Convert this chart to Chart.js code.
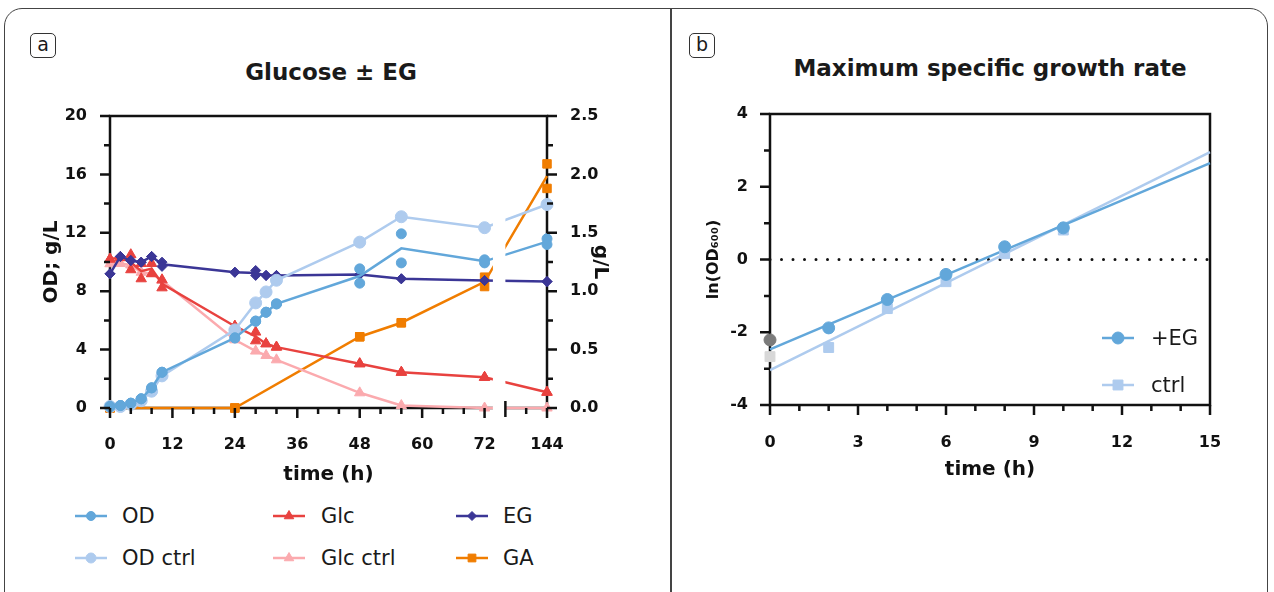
<!DOCTYPE html>
<html>
<head>
<meta charset="utf-8">
<script src="https://cdn.jsdelivr.net/npm/chart.js"></script>
<style>
  body { margin: 0; width: 1274px; height: 592px; overflow: hidden; background: #fff;
         font-family: "DejaVu Sans", sans-serif; color: #1a1a1a; position: relative; }
  .abs { position: absolute; }
  #frame { left: 4px; top: 8px; width: 1262px; height: 640px; border: 1.5px solid #444; border-radius: 18px; }
  #divider { left: 670px; top: 8px; width: 1.5px; height: 600px; background: #444; }
  .tag { width: 24px; height: 23px; border: 1.5px solid #333; border-radius: 5px;
         font-size: 19px; line-height: 21px; text-align: center; }
  .title { font-weight: bold; font-size: 23px; white-space: nowrap; transform: translateX(-50%); line-height: 28px; }
  .leg { font-size: 21px; white-space: nowrap; line-height: 24px; }
</style>
</head>
<body>
<div id="frame" class="abs"></div>
<div id="divider" class="abs"></div>
<div class="abs tag" style="left:30px; top:33px;">a</div>
<div class="abs tag" style="left:689px; top:33px;">b</div>
<div class="abs title" style="left:331px; top:58px;">Glucose ± EG</div>
<div class="abs title" style="left:990px; top:54px;">Maximum specific growth rate</div>

<div class="abs" style="left:0; top:0; width:670px; height:500px;"><canvas id="chartA"></canvas></div>
<div class="abs" style="left:672px; top:0; width:602px; height:500px;"><canvas id="chartB"></canvas></div>
<div id="legendA"></div>
<div id="legendB"></div>

<script>
// ---- panel a: glucose +/- EG time course ----
const hours   = [0, 2, 4, 6, 8, 10, 24, 28, 30, 32, 48, 56, 72, 144];
const odRepA  = [0.1, 0.17, 0.33, 0.63, 1.38, 2.45, 4.8, 5.95, 6.56, 7.13, 9.53, 11.93, 10.15, 11.59];
const odRepB  = [0.1, 0.17, 0.33, 0.63, 1.38, 2.45, 4.8, 5.95, 6.56, 7.13, 8.55, 9.94, 9.94, 11.2];
const odCtrl  = [0.1, 0.1, 0.25, 0.5, 1.15, 2.2, 5.35, 7.2, 7.95, 8.75, 11.36, 13.1, 12.35, 13.94];
const glcRepA = [10.2, 10.3, 10.5, 9.9, 9.9, 8.78, 5.6, 5.2, 4.4, 4.17, 3.03, 2.45, 2.1, 1.08];
const glcRepB = [10.2, 10.3, 9.47, 8.85, 9.2, 8.23, 5.6, 4.6, 4.4, 4.17, 3.03, 2.45, 2.1, 1.08];
const glcCtrl = [9.88, 9.9, 9.8, 9.3, 9.2, 8.73, 4.67, 3.9, 3.6, 3.3, 1.04, 0.17, 0, 0];
const egRepA  = [9.19, 10.38, 10.1, 9.99, 10.38, 9.99, 9.3, 9.42, 9.08, 9.08, 9.15, 8.85, 8.73, 8.66];
const egRepB  = [9.19, 10.38, 10.1, 9.99, 10.38, 9.7, 9.3, 9.08, 9.08, 9.08, 9.15, 8.85, 8.73, 8.66];
// GA is read on the right axis (g/L)
const gaRepA  = [0, null, null, null, null, null, 0, null, null, null, 0.61, 0.73, 1.12, 2.09];
const gaRepB  = [0, null, null, null, null, null, 0, null, null, null, 0.61, 0.73, 1.04, 1.88];

const xMajorA = [0, 12, 24, 36, 48, 60, 72, 144];
const xMinorA = [4, 8, 16, 20, 28, 32, 40, 44, 52, 56, 64, 68, 140];
const yLeftMajor = [0, 4, 8, 12, 16, 20];
const yLeftMinor = [2, 6, 10, 14, 18];
const yRightMajor = [0, 0.5, 1, 1.5, 2, 2.5];
const yRightMinor = [0.25, 0.75, 1.25, 1.75, 2.25];

// ---- panel b: ln(OD600) over the exponential phase ----
const gHours  = [0, 2, 4, 6, 8, 10];
const lnEG    = [-2.21, -1.88, -1.10, -0.41, 0.35, 0.87];
const lnCtrl  = [-2.67, -2.42, -1.35, -0.61, 0.16, 0.81];
const fitHours = [0, 15];
const fitEG    = [-2.47, 2.65];
const fitCtrl  = [-3.04, 2.95];
const xMajorB = [0, 3, 6, 9, 12, 15];
const xMinorB = [1, 2, 4, 5, 7, 8, 10, 11, 13, 14];
const yMajorB = [-4, -2, 0, 2, 4];
const yMinorB = [-3, -1, 1, 3];

const C = {
  od: '#62a7da', odCtrl: '#aecbee', glc: '#e8423f', glcCtrl: '#fbaaae',
  eg: '#3b3696', ga: '#f07d00', ink: '#111111', grey: '#7b7b7b', greyLight: '#d8d8d8'
};

// x axis has a break: 72 h is followed directly by 136 h
const BREAK_SKIP = 60;
function axisPos(t) { return t > 72 ? t - BREAK_SKIP : t; }
function axisHour(v) { return v > 72 ? v + BREAK_SKIP : v; }

function linePts(a, b) {
  return hours.map((h, i) => ({
    x: axisPos(h),
    y: (a[i] === null) ? null : (b ? (a[i] + b[i]) / 2 : a[i])
  }));
}
function markPts() {
  const out = [];
  for (const arr of arguments) {
    hours.forEach((h, i) => { if (arr[i] !== null) out.push({ x: axisPos(h), y: arr[i] }); });
  }
  return out;
}

const tickFont = { family: 'DejaVu Sans', size: 16, weight: 'bold' };
const titleFont = { family: 'DejaVu Sans', size: 20, weight: 'bold' };

// frame + ticks drawn by hand so minor ticks can be shorter
function strokeTicks(chart, id, values, len, width) {
  const s = chart.scales[id], a = chart.chartArea, ctx = chart.ctx;
  ctx.save();
  ctx.strokeStyle = C.ink;
  ctx.lineWidth = width;
  ctx.beginPath();
  values.forEach(v => {
    const p = s.getPixelForValue(v);
    if (s.isHorizontal()) { ctx.moveTo(p, a.bottom); ctx.lineTo(p, a.bottom + len); }
    else if (s.position === 'left') { ctx.moveTo(a.left, p); ctx.lineTo(a.left - len, p); }
    else { ctx.moveTo(a.right, p); ctx.lineTo(a.right + len, p); }
  });
  ctx.stroke();
  ctx.restore();
}
function boxPlugin(extra) {
  return {
    id: 'box',
    beforeDatasetsDraw(chart) {
      const { ctx, chartArea: a } = chart;
      ctx.save();
      ctx.strokeStyle = C.ink;
      ctx.lineWidth = 2.5;
      ctx.strokeRect(a.left, a.top, a.right - a.left, a.bottom - a.top);
      ctx.restore();
    },
    afterDatasetsDraw(chart) { extra(chart); }
  };
}

function lineSet(data, color, axis, order) {
  return { data: data, yAxisID: axis, borderColor: color, borderWidth: 2.5, pointRadius: 0,
           spanGaps: true, clip: false, order: order };
}
function markSet(data, color, style, r, axis, order) {
  return { data: data, yAxisID: axis, showLine: false, pointStyle: style, pointRadius: r,
           pointBackgroundColor: color, pointBorderColor: color, pointBorderWidth: 1,
           clip: false, order: order };
}

new Chart(document.getElementById('chartA'), {
  type: 'line',
  data: {
    datasets: [
      lineSet(linePts(odRepA, odRepB), C.od, 'y', 2),
      markSet(markPts(odRepA, odRepB), C.od, 'circle', 5, 'y', 1),
      lineSet(linePts(odCtrl), C.odCtrl, 'y', 4),
      markSet(markPts(odCtrl), C.odCtrl, 'circle', 6, 'y', 3),
      lineSet(linePts(egRepA, egRepB), C.eg, 'y', 6),
      markSet(markPts(egRepA, egRepB), C.eg, 'rectRot', 5, 'y', 5),
      lineSet(linePts(glcRepA, glcRepB), C.glc, 'y', 8),
      markSet(markPts(glcRepA, glcRepB), C.glc, 'triangle', 6, 'y', 7),
      lineSet(linePts(glcCtrl), C.glcCtrl, 'y', 10),
      markSet(markPts(glcCtrl), C.glcCtrl, 'triangle', 6, 'y', 9),
      lineSet(linePts(gaRepA, gaRepB), C.ga, 'y2', 12),
      markSet(markPts(gaRepA, gaRepB), C.ga, 'rect', 6, 'y2', 11)
    ]
  },
  options: {
    responsive: true,
    maintainAspectRatio: false,
    animation: false,
    events: [],
    layout: { padding: { top: 116, left: 0, right: 0, bottom: 0 } },
    plugins: { legend: { display: false }, tooltip: { enabled: false } },
    scales: {
      x: {
        type: 'linear', min: 0, max: axisPos(144),
        grid: { display: false }, border: { display: false },
        afterBuildTicks: s => { s.ticks = xMajorA.map(h => ({ value: axisPos(h) })); },
        afterFit: s => { s.height = 92; },
        ticks: { font: tickFont, color: C.ink, padding: 19, maxRotation: 0,
                 callback: v => String(axisHour(v)) },
        title: { display: true, text: 'time (h)', font: titleFont, color: C.ink, padding: { bottom: 13 } }
      },
      y: {
        position: 'left', min: 0, max: 20,
        grid: { display: false }, border: { display: false },
        afterBuildTicks: s => { s.ticks = yLeftMajor.map(v => ({ value: v })); },
        afterFit: s => { s.width = 110; },
        ticks: { font: tickFont, color: C.ink, padding: 15 },
        title: { display: true, text: 'OD; g/L', font: titleFont, color: C.ink, padding: { top: 40 } }
      },
      y2: {
        position: 'right', min: 0, max: 2.5,
        grid: { display: false }, border: { display: false },
        afterBuildTicks: s => { s.ticks = yRightMajor.map(v => ({ value: v })); },
        afterFit: s => { s.width = 123; },
        ticks: { font: tickFont, color: C.ink, padding: 15, callback: v => v.toFixed(1) },
        title: { display: true, text: 'g/L', font: titleFont, color: C.ink, padding: { top: 58 } }
      }
    }
  },
  plugins: [boxPlugin(chart => {
    const { ctx, chartArea: a } = chart;
    const x = chart.scales.x;
    // white gap of the broken axis
    const g0 = x.getPixelForValue(73.6), g1 = x.getPixelForValue(axisPos(136));
    ctx.save();
    ctx.fillStyle = '#fff';
    ctx.fillRect(g0, a.top + 2, g1 - g0, a.bottom - a.top + 4);
    ctx.strokeStyle = C.ink;
    ctx.lineWidth = 2.5;
    ctx.beginPath();
    ctx.moveTo(g1, a.bottom - 7);
    ctx.lineTo(g1, a.bottom + 9);
    ctx.stroke();
    ctx.restore();
    strokeTicks(chart, 'x', xMajorA.map(axisPos), 10, 2.5);
    strokeTicks(chart, 'x', xMinorA.map(axisPos), 6, 2.5);
    strokeTicks(chart, 'y', yLeftMajor, 10, 2.5);
    strokeTicks(chart, 'y', yLeftMinor, 6, 2.5);
    strokeTicks(chart, 'y2', yRightMajor, 10, 2.5);
    strokeTicks(chart, 'y2', yRightMinor, 6, 2.5);
  })]
});

function xy(xs, ys) { return xs.map((x, i) => ({ x: x, y: ys[i] })); }
// the 0 h points were left out of the fit and are shown in grey
const egPointColors = gHours.map(h => h === 0 ? C.grey : C.od);
const ctrlPointColors = gHours.map(h => h === 0 ? C.greyLight : C.odCtrl);

new Chart(document.getElementById('chartB'), {
  type: 'line',
  data: {
    datasets: [
      { data: xy(fitHours, [0, 0]), borderColor: C.ink, borderWidth: 3, borderDash: [0, 11.5],
        borderCapStyle: 'round', pointRadius: 0, clip: false, order: 6 },
      { data: xy(fitHours, fitCtrl), borderColor: C.odCtrl, borderWidth: 2.5, pointRadius: 0, clip: false, order: 5 },
      { data: xy(fitHours, fitEG), borderColor: C.od, borderWidth: 2.5, pointRadius: 0, clip: false, order: 4 },
      { data: xy(gHours, lnCtrl), showLine: false, pointStyle: 'rect', pointRadius: 7,
        pointBackgroundColor: ctrlPointColors, pointBorderColor: ctrlPointColors, clip: false, order: 3 },
      { data: xy(gHours, lnEG), showLine: false, pointStyle: 'circle', pointRadius: 6,
        pointBackgroundColor: egPointColors, pointBorderColor: egPointColors, clip: false, order: 2 }
    ]
  },
  options: {
    responsive: true,
    maintainAspectRatio: false,
    animation: false,
    events: [],
    layout: { padding: { top: 114, left: 0, right: 64, bottom: 0 } },
    plugins: { legend: { display: false }, tooltip: { enabled: false } },
    scales: {
      x: {
        type: 'linear', min: 0, max: 15,
        grid: { display: false }, border: { display: false },
        afterBuildTicks: s => { s.ticks = xMajorB.map(v => ({ value: v })); },
        afterFit: s => { s.height = 95; },
        ticks: { font: tickFont, color: C.ink, padding: 20, maxRotation: 0 },
        title: { display: true, text: 'time (h)', font: titleFont, color: C.ink, padding: { bottom: 18 } }
      },
      y: {
        min: -4, max: 4,
        grid: { display: false }, border: { display: false },
        afterBuildTicks: s => { s.ticks = yMajorB.map(v => ({ value: v })); },
        afterFit: s => { s.width = 98; },
        ticks: { font: tickFont, color: C.ink, padding: 14 },
        title: { display: true, text: 'ln(OD₆₀₀)', font: { family: 'DejaVu Sans', size: 16, weight: 'bold' },
                 color: C.ink, padding: { top: 32 } }
      }
    }
  },
  plugins: [boxPlugin(chart => {
    strokeTicks(chart, 'x', xMajorB, 10, 2.5);
    strokeTicks(chart, 'x', xMinorB, 6, 2.5);
    strokeTicks(chart, 'y', yMajorB, 10, 2.5);
    strokeTicks(chart, 'y', yMinorB, 6, 2.5);
  })]
});

// ---- legends (line + marker icon, real text label) ----
function legendItem(host, left, cy, color, style, r, label, textLeft) {
  const cv = document.createElement('canvas');
  cv.width = 32; cv.height = 18;
  cv.className = 'abs';
  cv.style.left = left + 'px';
  cv.style.top = (cy - 9) + 'px';
  const ctx = cv.getContext('2d');
  ctx.strokeStyle = color;
  ctx.lineWidth = 2.5;
  ctx.beginPath(); ctx.moveTo(0, 9); ctx.lineTo(32, 9); ctx.stroke();
  ctx.fillStyle = color;
  ctx.strokeStyle = color;
  ctx.lineWidth = 1;
  Chart.helpers.drawPoint(ctx, { pointStyle: style, radius: r, borderWidth: 1 }, 16, 9);
  host.appendChild(cv);
  const t = document.createElement('div');
  t.className = 'abs leg';
  t.style.left = textLeft + 'px';
  t.style.top = (cy - 12) + 'px';
  t.textContent = label;
  host.appendChild(t);
}
const legA = document.getElementById('legendA');
legendItem(legA, 75, 516, C.od, 'circle', 4.5, 'OD', 122);
legendItem(legA, 75, 558, C.odCtrl, 'circle', 5, 'OD ctrl', 122);
legendItem(legA, 273, 516, C.glc, 'triangle', 5.5, 'Glc', 321);
legendItem(legA, 273, 558, C.glcCtrl, 'triangle', 5.5, 'Glc ctrl', 321);
legendItem(legA, 456, 516, C.eg, 'rectRot', 4.5, 'EG', 503);
legendItem(legA, 456, 558, C.ga, 'rect', 5.5, 'GA', 503);
const legB = document.getElementById('legendB');
legendItem(legB, 1102, 338, C.od, 'circle', 6, '+EG', 1151);
legendItem(legB, 1102, 385, C.odCtrl, 'rect', 7, 'ctrl', 1151);
</script>
</body>
</html>
